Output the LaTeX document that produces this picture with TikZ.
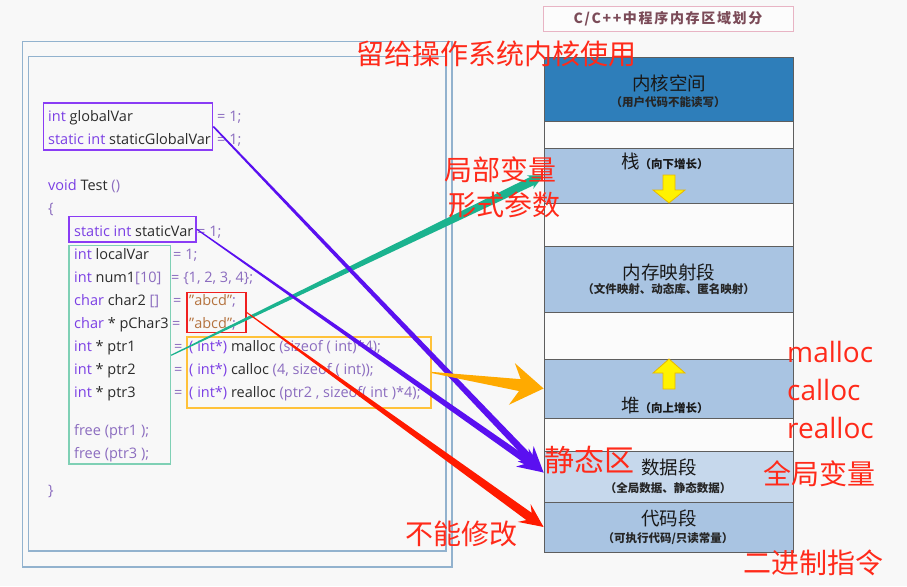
\documentclass[tikz,border=0pt]{standalone}
\usepackage{fontspec}
\setmainfont{Open Sans}
\newfontfamily\cjk{Noto Sans CJK SC}
\newfontfamily\cjktitle[LetterSpace=12]{Noto Sans CJK SC}
\usetikzlibrary{calc}
\definecolor{bg}{HTML}{F8F8F8}
\definecolor{framec}{HTML}{92B2CE}
\definecolor{kwc}{HTML}{7B3FE4}
\definecolor{idc}{HTML}{2B2B2B}
\definecolor{pnc}{HTML}{8B6CBF}
\definecolor{stc}{HTML}{B5733F}
\definecolor{purpbox}{HTML}{8A3CF5}
\definecolor{greenbox}{HTML}{7FD0B5}
\definecolor{redbox}{HTML}{F02020}
\definecolor{orangebox}{HTML}{FFC23A}
\definecolor{purparrow}{HTML}{5A10F0}
\definecolor{tealarrow}{HTML}{1BB38F}
\definecolor{orangearrow}{HTML}{FFAA00}
\definecolor{redarrow}{HTML}{FF1A00}
\definecolor{kernelc}{HTML}{2E7EBA}
\definecolor{segc}{HTML}{A9C4E2}
\definecolor{datac}{HTML}{C6D8EC}
\definecolor{gapc}{HTML}{FBFBFB}
\definecolor{segborder}{HTML}{5E5E5E}
\definecolor{labred}{HTML}{FF2A1A}
\definecolor{titlec}{HTML}{7B4B58}
\definecolor{titleborder}{HTML}{E8B4C4}
\definecolor{yfill}{HTML}{FFF200}
\definecolor{yborder}{HTML}{E8B800}
\newcommand{\ckw}[1]{\textcolor{kwc}{#1}}
\newcommand{\cid}[1]{\textcolor{idc}{#1}}
\newcommand{\cpn}[1]{\textcolor{pnc}{#1}}
\newcommand{\cst}[1]{\textcolor{stc}{#1}}
% tapered arrow: #1 colour, #2 start, #3 tip, #4 half-width at start, #5 half-width at shaft end,
% #6 barb distance from tip, #7 notch distance from tip, #8 barb half-width, #9 name
\newcommand{\taper}[9]{%
  \path ($(#3)!#6!(#2)$) coordinate (#9b) ($(#3)!#7!(#2)$) coordinate (#9n);
  \fill[#1] ($(#2)!#4!90:(#3)$) -- ($(#9n)!#5!-90:(#2)$) -- ($(#9b)!#8!-90:(#2)$) -- (#3)
    -- ($(#9b)!#8!90:(#2)$) -- ($(#9n)!#5!90:(#2)$) -- ($(#2)!#4!-90:(#3)$) -- cycle;
}
\begin{document}
\begin{tikzpicture}[x=1pt,y=-1pt,
  frame/.style={draw=framec,line width=1.2pt,inner sep=0},
  code/.style={anchor=base west,inner sep=0,font=\fontsize{14.5}{17}\selectfont},
  hbox/.style={inner sep=0,line width=1.6pt},
  seg/.style={draw=segborder,line width=0.8pt,inner sep=0,minimum width=249pt},
  segtitle/.style={inner sep=0,text=black!90,font=\cjk\fontsize{18.5}{20}\selectfont},
  segsub/.style={inner sep=0,text=black!85,font=\cjk\bfseries\fontsize{11.5}{13}\selectfont},
  redlab/.style={inner sep=0,text=labred,font=\cjk\fontsize{28}{30}\selectfont},
  yarrow/.style={fill=yfill,draw=yborder,line width=0.8pt,line join=miter}]
\fill[bg] (0,0) rectangle (907,586);
\useasboundingbox (0,0) rectangle (907,586);

% frames
\node[frame,minimum width=429.5pt,minimum height=525.5pt] (outer) at (237.25,304.25) {};
\node[frame,minimum width=417.5pt,minimum height=494.5pt] (inner) at (237.25,303.75) {};

% code
\node[code] (c1) at (48,121.5) {\ckw{int} \cid{globalVar}};
\node[code] (c1e) at (217,121.5) {\cpn{= 1;}};
\node[code] (c2) at (48,144.5) {\ckw{static int} \cid{staticGlobalVar}};
\node[code] (c2e) at (217,144.5) {\cpn{= 1;}};
\node[code] (c3) at (48,190.5) {\ckw{void} \cid{Test} \cpn{()}};
\node[code] (c4) at (48,213.5) {\cpn{\{}};
\node[code] (c5) at (74,236.5) {\ckw{static int} \cid{staticVar}};
\node[code] (c5e) at (197,236.5) {\cpn{= 1;}};
\node[code] (c6) at (74,259.5) {\ckw{int} \cid{localVar}};
\node[code] (c6e) at (173,259.5) {\cpn{= 1;}};
\node[code] (c7) at (74,282.5) {\ckw{int} \cid{num1}\cpn{[10]}};
\node[code] (c7e) at (171,282.5) {\cpn{= \{1, 2, 3, 4\};}};
\node[code] (c8) at (74,305.5) {\ckw{char} \cid{char2} \cpn{[]}};
\node[code] (c8e) at (173,305.5) {\cpn{=}};
\node[code] (c8s) at (189,305.5) {\cst{"abcd"}\cpn{;}};
\node[code] (c9) at (74,328.5) {\ckw{char} \cid{* pChar3}};
\node[code] (c9e) at (172,328.5) {\cpn{=}};
\node[code] (c9s) at (189,328.5) {\cst{"abcd"}\cpn{;}};
\node[code] (c10) at (74,351.5) {\ckw{int} \cid{* ptr1}};
\node[code] (c10e) at (174,351.5) {\cpn{=}};
\node[code] (c10s) at (189,351.5) {\ckw{( int*)} \cid{malloc} \cpn{(sizeof ( int)*4);}};
\node[code] (c11) at (74,374.5) {\ckw{int} \cid{* ptr2}};
\node[code] (c11e) at (174,374.5) {\cpn{=}};
\node[code] (c11s) at (189,374.5) {\ckw{( int*)} \cid{calloc} \cpn{(4, sizeof ( int));}};
\node[code] (c12) at (74,397.5) {\ckw{int} \cid{* ptr3}};
\node[code] (c12e) at (174,397.5) {\cpn{=}};
\node[code] (c12s) at (189,397.5) {\ckw{( int*)} \cid{realloc} \cpn{(ptr2 , sizeof( int )*4);}};
\node[code] (c13) at (74,435.5) {\cpn{free (ptr1 );}};
\node[code] (c14) at (74,458.5) {\cpn{free (ptr3 );}};
\node[code] (c15) at (48,495.5) {\cpn{\}}};

% highlight boxes
\node[hbox,draw=purpbox,minimum width=169pt,minimum height=47pt] (gbox) at (128,126.5) {};
\node[hbox,draw=purpbox,minimum width=127pt,minimum height=25.5pt] (sbox) at (132.5,229.25) {};
\node[hbox,draw=greenbox,line width=1.4pt,minimum width=101.5pt,minimum height=218.5pt] (lbox) at (119.75,354.75) {};
\node[hbox,draw=redbox,minimum width=59pt,minimum height=40pt] (rbox) at (216.5,312.5) {};
\node[hbox,draw=orangebox,minimum width=244pt,minimum height=71pt] (abox) at (309,372.5) {};

% title
\node[draw=titleborder,line width=0.8pt,fill=white!60!bg,minimum width=250pt,minimum height=25pt,inner sep=0,
  text=titlec,font=\cjktitle\bfseries\fontsize{14}{16}\selectfont] (title) at (668,18.5) {C/C++中程序内存区域划分};

% memory column
\node[seg,fill=kernelc,minimum height=64pt] (kernel) at (668.5,89) {};
\node[seg,fill=gapc,minimum height=27pt] (gap1) at (668.5,134.5) {};
\node[seg,fill=segc,minimum height=55pt] (stack) at (668.5,175.5) {};
\node[seg,fill=gapc,minimum height=43pt] (gap2) at (668.5,224.5) {};
\node[seg,fill=segc,minimum height=66pt] (mmap) at (668.5,279) {};
\node[seg,fill=gapc,minimum height=47pt] (gap3) at (668.5,335.5) {};
\node[seg,fill=segc,minimum height=59pt] (heap) at (668.5,388.5) {};
\node[seg,fill=gapc,minimum height=33pt] (gap4) at (668.5,434.5) {};
\node[seg,fill=datac,minimum height=51pt] (data) at (668.5,476.5) {};
\node[seg,fill=segc,minimum height=50pt] (codeseg) at (668.5,527) {};

\node[segtitle] (t1) at (669,83) {内核空间};
\node[segsub] (s1) at (668,102) {（用户代码不能读写）};
\node[segtitle,anchor=base west] (t2) at (621,168) {栈{\bfseries\fontsize{11.5}{13}\selectfont（向下增长）}};
\node[segtitle] (t3) at (669,272) {内存映射段};
\node[segsub] (s3) at (668.5,289.5) {（文件映射、动态库、匿名映射）};
\node[segtitle,anchor=base west] (t4) at (621,412) {堆{\bfseries\fontsize{11.5}{13}\selectfont（向上增长）}};
\node[segtitle] (t5) at (669,467) {数据段};
\node[segsub] (s5) at (668,488.5) {（全局数据、静态数据）};
\node[segtitle] (t6) at (669,518) {代码段};
\node[segsub] (s6) at (668,538.5) {（可执行代码/只读常量）};

% yellow growth arrows
\draw[yarrow] (663,175) -- (675,175) -- (675,190) -- (685,190) -- (669,203) -- (653,190) -- (663,190) -- cycle;
\draw[yarrow] (669,359) -- (685,373) -- (675,373) -- (675,389) -- (663,389) -- (663,373) -- (653,373) -- cycle;

% connectors
\coordinate (tealstart) at ($(lbox.east)+(0,0.5)$);
\coordinate (purptip) at ($(data.west)+(0,-4)$);
\taper{tealarrow}{tealstart}{stack.west}{0.6pt}{4.5pt}{15pt}{13pt}{7.5pt}{ta}
\taper{purparrow}{gbox.east}{purptip}{0.8pt}{3.4pt}{26pt}{20pt}{11pt}{pa}
\taper{purparrow}{sbox.east}{purptip}{0.6pt}{3.4pt}{26pt}{20pt}{11pt}{pb}
\taper{orangearrow}{abox.east}{heap.west}{0.6pt}{6pt}{32pt}{24pt}{21pt}{oa}
\taper{redarrow}{rbox.east}{codeseg.west}{0.5pt}{4.5pt}{24pt}{18pt}{11pt}{ra}

% red annotations
\node[redlab] (n1) at (496,54) {留给操作系统内核使用};
\node[redlab] (n2) at (500,170) {局部变量};
\node[redlab] (n3) at (504,205) {形式参数};
\node[redlab,font=\fontsize{28}{30}\selectfont,anchor=west] (n4) at (787,352) {malloc};
\node[redlab,font=\fontsize{28}{30}\selectfont,anchor=west] (n5) at (787,390) {calloc};
\node[redlab,font=\fontsize{28}{30}\selectfont,anchor=west] (n6) at (787,428) {realloc};
\node[redlab,font=\cjk\fontsize{30}{32}\selectfont] (n7) at (589.5,460) {静态区};
\node[redlab] (n8) at (819,474) {全局变量};
\node[redlab] (n9) at (461,534) {不能修改};
\node[redlab] (n10) at (813,563) {二进制指令};
\end{tikzpicture}
\end{document}
